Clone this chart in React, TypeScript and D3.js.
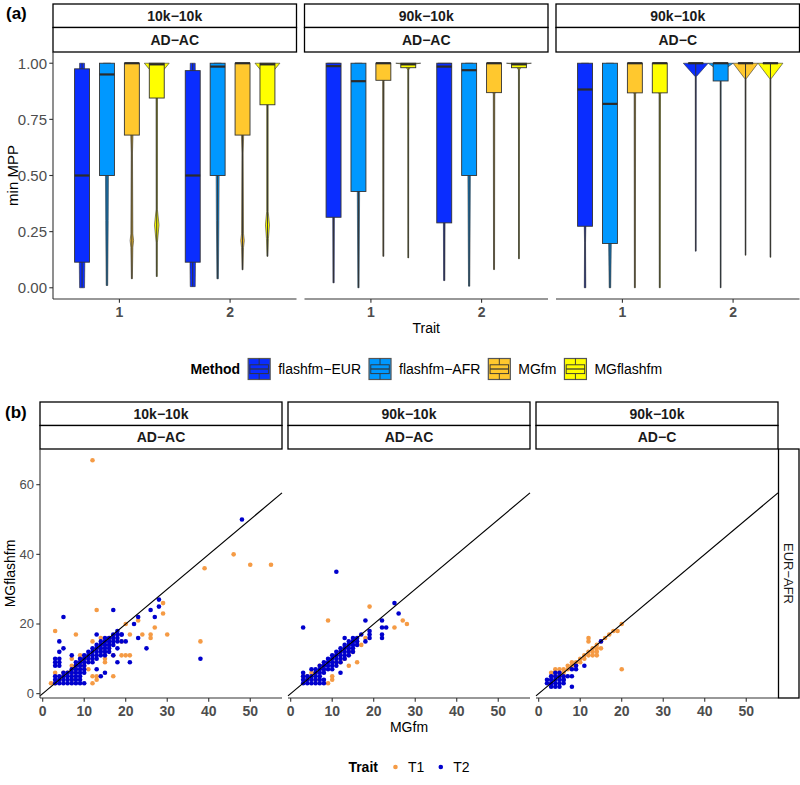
import React, { useEffect } from "react";
import * as d3 from "d3";

const FONT = "'Liberation Sans', Arial, Helvetica, sans-serif";

// ---------- (a) data ----------
const methods = ["flashfm−EUR", "flashfm−AFR", "MGfm", "MGflashfm"];
const methodColors = ["#0A2DFF", "#0098FF", "#FFC82E", "#FFFF00"];
const facetRow1 = ["10k−10k", "90k−10k", "90k−10k"];
const facetRow2 = ["AD−AC", "AD−AC", "AD−C"];
const traitsA = ["1", "2"];
const yTicksA = [0, 0.25, 0.5, 0.75, 1];
const yTickLabelsA = ["0.00", "0.25", "0.50", "0.75", "1.00"];

// [lower whisker, q1, median, q3, upper whisker] per panel / trait / method
const boxStats = [
  [
    [[0.0, 0.114, 0.5, 0.975, 1.0], [0.01, 0.5, 0.95, 1.0, 1.0], [0.04, 0.68, 1.0, 1.0, 1.0], [0.05, 0.845, 0.995, 1.0, 1.0]],
    [[0.005, 0.114, 0.5, 0.967, 1.0], [0.04, 0.5, 0.985, 1.0, 1.0], [0.08, 0.68, 1.0, 1.0, 1.0], [0.14, 0.815, 0.995, 1.0, 1.0]],
  ],
  [
    [[0.022, 0.314, 0.987, 1.0, 1.0], [0.0, 0.429, 0.92, 1.0, 1.0], [0.14, 0.924, 1.0, 1.0, 1.0], [0.133, 0.98, 0.995, 1.0, 1.0]],
    [[0.032, 0.289, 0.985, 1.0, 1.0], [0.007, 0.5, 0.969, 1.0, 1.0], [0.081, 0.869, 1.0, 1.0, 1.0], [0.129, 0.98, 0.995, 1.0, 1.0]],
  ],
  [
    [[0.0, 0.274, 0.883, 1.0, 1.0], [0.0, 0.197, 0.819, 1.0, 1.0], [0.0, 0.868, 1.0, 1.0, 1.0], [0.0, 0.868, 1.0, 1.0, 1.0]],
    [[0.163, 1.0, 1.0, 1.0, 1.0], [0.0, 0.921, 1.0, 1.0, 1.0], [0.145, 1.0, 1.0, 1.0, 1.0], [0.136, 1.0, 1.0, 1.0, 1.0]],
  ],
];

// violin outline knots: [value, relative half-width]
const violinKnots = [
  [
    [
      [[0.0, 0.2], [0.1, 0.22], [0.9, 0.22], [1.0, 0.2]],
      [[0.01, 0.06], [0.3, 0.1], [0.5, 0.12], [1.0, 0.3]],
      [[0.04, 0.04], [0.18, 0.08], [0.21, 0.14], [0.24, 0.08], [0.6, 0.05], [0.7, 0.1], [1.0, 0.5]],
      [[0.05, 0.04], [0.2, 0.05], [0.28, 0.18], [0.35, 0.05], [0.85, 0.06], [0.95, 0.4], [0.97, 0.55], [1.0, 1.0]],
    ],
    [
      [[0.005, 0.2], [0.1, 0.22], [0.9, 0.22], [1.0, 0.2]],
      [[0.04, 0.06], [0.3, 0.1], [0.5, 0.12], [1.0, 0.3]],
      [[0.08, 0.04], [0.18, 0.08], [0.21, 0.14], [0.24, 0.08], [0.6, 0.05], [0.7, 0.1], [1.0, 0.5]],
      [[0.14, 0.04], [0.22, 0.08], [0.28, 0.16], [0.34, 0.06], [0.82, 0.06], [0.95, 0.4], [0.97, 0.55], [1.0, 1.0]],
    ],
  ],
  [
    [
      [[0.022, 0.05], [0.5, 0.08], [0.95, 0.3], [1.0, 0.5]],
      [[0.0, 0.05], [0.5, 0.1], [1.0, 0.3]],
      [[0.14, 0.04], [0.92, 0.06], [1.0, 0.55]],
      [[0.133, 0.03], [0.97, 0.04], [0.995, 0.3], [1.0, 1.0]],
    ],
    [
      [[0.032, 0.05], [0.5, 0.08], [0.95, 0.3], [1.0, 0.5]],
      [[0.007, 0.05], [0.5, 0.1], [1.0, 0.3]],
      [[0.081, 0.04], [0.86, 0.06], [1.0, 0.55]],
      [[0.129, 0.03], [0.97, 0.04], [0.995, 0.3], [1.0, 1.0]],
    ],
  ],
  [
    [
      [[0.0, 0.06], [0.2, 0.04], [1.0, 0.3]],
      [[0.0, 0.06], [1.0, 0.3]],
      [[0.0, 0.04], [0.86, 0.06], [1.0, 0.55]],
      [[0.0, 0.04], [0.86, 0.06], [1.0, 0.55]],
    ],
    [
      [[0.163, 0.03], [0.94, 0.04], [1.0, 1.0]],
      [[0.0, 0.03], [0.92, 0.04], [0.98, 0.5], [1.0, 1.0]],
      [[0.145, 0.03], [0.93, 0.04], [1.0, 1.0]],
      [[0.136, 0.03], [0.93, 0.04], [1.0, 1.0]],
    ],
  ],
];

// ---------- (b) data ----------
const traitLabels = ["T1", "T2"];
const traitColors = ["#F59B45", "#0000CD"];
const xTicksB = [0, 10, 20, 30, 40, 50];
const yTicksB = [0, 20, 40, 60];
const rowStripB = "EUR−AFR";

const scatterT1 = [
  [[12, 67], [46, 40], [50, 37], [55, 37], [39, 36], [38, 15], [13, 24], [3, 18], [8, 17], [20, 20], [21, 17], [23, 21], [24, 17], [26, 17], [26, 16], [29, 26], [29, 23], [27, 19], [30, 17], [19, 15], [19, 11], [20, 11], [21, 11], [12, 15], [14, 16], [16, 15], [15, 9], [15, 10], [17, 11], [12, 5], [13, 5], [13, 4], [12, 3], [17, 5], [2, 3], [3, 6], [5, 6], [7, 6], [7, 10], [7, 8], [8, 7], [9, 11], [10, 8], [11, 7], [7, 4], [6, 6], [16, 14], [15, 12], [11, 10], [14, 13], [4, 4], [3, 3], [5, 5], [9, 9], [10, 10], [13, 13], [16, 16], [8, 8], [18, 17], [17, 16]],
  [[19, 25], [9, 21], [27, 21], [28, 20], [25, 19], [18, 16], [16, 15], [14, 12], [15, 12], [16, 9], [14, 8], [11, 9], [10, 5], [10, 4], [9, 3], [3, 5], [4, 5], [5, 6], [6, 4], [7, 8], [8, 7], [12, 12], [13, 13], [17, 14], [11, 11], [4, 4], [6, 6], [13, 10], [12, 9]],
  [[20, 20], [19, 18], [18, 18], [20, 7], [12, 16], [12, 15], [14, 14], [14, 13], [14, 12], [14, 11], [13, 13], [13, 12], [12, 11], [11, 11], [10, 10], [10, 9], [9, 9], [9, 8], [8, 8], [7, 8], [7, 7], [4, 7], [4, 6], [4, 5], [5, 6], [5, 5], [6, 5], [16, 16], [17, 17], [15, 13], [11, 10], [6, 7], [8, 9], [5, 7], [6, 6], [13, 11], [15, 15], [3, 6], [12, 12]],
];

// T2: scattered points plus rows [y, [x...]]
const scatterT2Loose = [
  [[5, 22], [17, 24], [4, 15], [4, 12], [5, 13], [13, 17], [22, 20], [23, 22], [23, 16], [25, 13], [26, 24], [27, 22], [28, 25], [28, 27], [48, 50], [38, 10], [21, 9], [18, 9], [15, 6], [14, 5], [13, 7], [18, 13], [17, 11], [19, 15], [20, 15], [19, 17], [16, 12], [10, 6]],
  [[11, 35], [3, 19], [25, 26], [26, 23], [18, 21], [22, 21], [23, 19], [22, 19], [22, 17], [22, 16], [19, 18], [19, 17], [19, 16], [18, 15], [17, 17], [13, 16], [12, 6]],
  [[15, 15], [11, 8], [9, 8], [9, 7], [8, 7], [8, 5], [7, 5], [8, 2], [6, 5], [6, 4]],
];
const scatterT2Rows = [
  [
    [3, [3, 4, 5, 6, 7, 8, 9, 10]], [4, [3, 4, 5, 6, 7, 8, 9]], [5, [3, 4, 5, 6, 7, 8, 9]], [6, [5, 6, 7, 8, 9]],
    [7, [7, 8, 9, 10]], [8, [3, 4, 8, 9, 10]], [9, [3, 4, 8, 9, 10, 11, 12]], [10, [3, 4, 9, 10, 11, 12, 13]],
    [11, [7, 10, 11, 12, 13, 14, 15]], [12, [11, 12, 13, 14, 15]], [13, [12, 13, 14, 15, 16]], [14, [13, 14, 15, 16, 17]],
    [15, [14, 15, 16, 17, 18]], [16, [15, 16, 17, 18]], [17, [17, 18, 19]], [18, [18]],
  ],
  [
    [3, [3, 4, 5, 6, 7, 8]], [4, [3, 4, 5, 6, 7, 8]], [5, [3, 4, 5, 6, 7]], [6, [3, 6, 7, 8]],
    [7, [5, 6, 7, 8, 9, 10]], [8, [7, 8, 9, 10, 11]], [9, [8, 9, 10, 11, 12]], [10, [9, 10, 11, 12, 13]],
    [11, [10, 11, 12, 13, 14]], [12, [11, 12, 13, 14, 15]], [13, [12, 13, 14, 15]], [14, [13, 14, 15, 16]],
    [15, [14, 15, 16]], [16, [15, 16]],
  ],
  [
    [2, [3, 4, 5]], [3, [2, 3, 4, 5, 6]], [4, [2, 3, 4, 5, 6]], [5, [3, 4, 5]], [6, [4, 5]],
  ],
];

// ---------- helpers ----------
let _ctx: any = null;
function measure(text: string, font: string) {
  if (!_ctx) _ctx = document.createElement("canvas").getContext("2d");
  _ctx.font = font;
  return _ctx.measureText(text).width;
}

function Strip({ x, y, w, h, label }: any) {
  return (
    <g>
      <rect x={x} y={y} width={w} height={h} fill="#fff" stroke="#000" strokeWidth={1.3} />
      <text x={x + w / 2} y={y + h / 2} textAnchor="middle" dominantBaseline="central" fontWeight="bold" fontSize={14} fill="#1A1A1A">
        {label}
      </text>
    </g>
  );
}

export default function App() {
  useEffect(() => {
    document.body.style.margin = "0";
  }, []);

  // ----- (a) layout -----
  const aLeft = [53, 304.5, 556];
  const aW = 243.5;
  const aTop = 52, aBottom = 299;
  const allA = boxStats.flat(3) as number[];
  const [aMin, aMax] = d3.extent(allA) as [number, number];
  const aPad = (aMax - aMin) * 0.05;
  const yA = d3.scaleLinear().domain([aMin - aPad, aMax + aPad]).range([aBottom, aTop]);

  const panelsA = aLeft.map((left, p) => {
    const xP = d3.scalePoint<string>().domain(traitsA).range([left, left + aW]).padding(0.6);
    const step = xP.step();
    const hw = (0.225 * step) / 2;
    const bw = 0.135 * step;
    const marks: any[] = [];
    traitsA.forEach((t, ti) => {
      methods.forEach((m, mi) => {
        const cx = (xP(t) as number) + (mi - 1.5) * 0.225 * step;
        const knots = violinKnots[p][ti][mi];
        const lft = knots.map(([v, w]) => [cx - w * hw, yA(v)] as [number, number]);
        const rgt = knots.map(([v, w]) => [cx + w * hw, yA(v)] as [number, number]).reverse();
        const path = d3.line()([...lft, ...rgt]) + "Z";
        const [lo, q1, med, q3, hi] = boxStats[p][ti][mi];
        marks.push(
          <g key={`${ti}-${mi}`}>
            <path d={path} fill={methodColors[mi]} stroke="#333" strokeWidth={0.6} />
            <line x1={cx} x2={cx} y1={yA(hi)} y2={yA(q3)} stroke="#333" strokeWidth={1} />
            <line x1={cx} x2={cx} y1={yA(q1)} y2={yA(lo)} stroke="#333" strokeWidth={1} />
            <rect x={cx - bw / 2} y={yA(q3)} width={bw} height={Math.max(0.01, yA(q1) - yA(q3))} fill={methodColors[mi]} stroke="#333" strokeWidth={0.9} />
            <line x1={cx - bw / 2} x2={cx + bw / 2} y1={yA(med)} y2={yA(med)} stroke="#2B2B2B" strokeWidth={2.2} />
          </g>
        );
      });
    });
    return (
      <g key={p}>
        <Strip x={left} y={4} w={aW} h={23.5} label={facetRow1[p]} />
        <Strip x={left} y={27.5} w={aW} h={24.5} label={facetRow2[p]} />
        {marks}
        <line x1={left} x2={left + aW} y1={aBottom} y2={aBottom} stroke="#333" strokeWidth={1.1} />
        {traitsA.map((t) => (
          <g key={t}>
            <line x1={xP(t)} x2={xP(t)} y1={aBottom} y2={aBottom + 3.7} stroke="#333" strokeWidth={1.1} />
            <text x={xP(t)} y={aBottom + 13} textAnchor="middle" dominantBaseline="central" fontSize={14} fontWeight="bold" fill="#4D4D4D">
              {t}
            </text>
          </g>
        ))}
        {p === 0 && (
          <g>
            <line x1={left} x2={left} y1={aTop} y2={aBottom} stroke="#333" strokeWidth={1.1} />
            {yTicksA.map((v, i) => (
              <g key={v}>
                <line x1={left - 3.7} x2={left} y1={yA(v)} y2={yA(v)} stroke="#333" strokeWidth={1.1} />
                <text x={left - 6} y={yA(v)} textAnchor="end" dominantBaseline="central" fontSize={15} fill="#4D4D4D">
                  {yTickLabelsA[i]}
                </text>
              </g>
            ))}
          </g>
        )}
      </g>
    );
  });

  // legend (a)
  const legAy = 369;
  const legTitleFont = `bold 14px ${FONT}`;
  const legLabFont = `14px ${FONT}`;
  const keyW = 22, keyH = 21;
  const tTitle = measure("Method", legTitleFont);
  const labW = methods.map((m) => measure(m, legLabFont));
  const legTotal = tTitle + labW.reduce((s, w) => s + 8 + keyW + 8 + w, 0);
  let lx = (aLeft[0] + aLeft[2] + aW) / 2 - legTotal / 2;
  const legendA: any[] = [
    <text key="t" x={lx} y={legAy} dominantBaseline="central" fontWeight="bold" fontSize={14} fill="#000">
      Method
    </text>,
  ];
  lx += tTitle;
  methods.forEach((m, i) => {
    lx += 8;
    const kx = lx, ky = legAy - keyH / 2;
    legendA.push(
      <g key={m}>
        <rect x={kx} y={ky} width={keyW} height={keyH} fill={methodColors[i]} stroke="#555" strokeWidth={1.2} />
        <line x1={kx + keyW / 2} x2={kx + keyW / 2} y1={ky} y2={ky + keyH * 0.3} stroke="#333" strokeWidth={0.9} />
        <line x1={kx + keyW / 2} x2={kx + keyW / 2} y1={ky + keyH * 0.72} y2={ky + keyH} stroke="#333" strokeWidth={0.9} />
        <rect x={kx + keyW * 0.08} y={ky + keyH * 0.3} width={keyW * 0.84} height={keyH * 0.42} fill={methodColors[i]} stroke="#333" strokeWidth={0.9} />
        <line x1={kx + keyW * 0.08} x2={kx + keyW * 0.92} y1={ky + keyH / 2} y2={ky + keyH / 2} stroke="#333" strokeWidth={1.2} />
        <text x={kx + keyW + 8} y={legAy} dominantBaseline="central" fontSize={14} fill="#000">
          {m}
        </text>
      </g>
    );
    lx += keyW + 8 + labW[i];
  });

  // ----- (b) layout -----
  const bLeft = [40, 288, 536];
  const bW = 242;
  const bTop = 449, bBottom = 698;
  const ptsT2 = scatterT2Loose.map((loose, p) => [
    ...loose,
    ...scatterT2Rows[p].flatMap(([y, xs]: any) => (xs as number[]).map((x) => [x, y])),
  ]);
  const allPts = [...scatterT1.flat(), ...ptsT2.flat()] as number[][];
  const [xMin, xMax] = d3.extent(allPts, (d) => d[0]) as [number, number];
  const [yMin, yMax] = d3.extent(allPts, (d) => d[1]) as [number, number];
  const xPad = (xMax - xMin) * 0.05, yPad = (yMax - yMin) * 0.05;
  const xDom = [xMin - xPad, xMax + xPad];
  const yB = d3.scaleLinear().domain([yMin - yPad, yMax + yPad]).range([bBottom, bTop]);

  const panelsB = bLeft.map((left, p) => {
    const xB = d3.scaleLinear().domain(xDom).range([left, left + bW]);
    const lo = Math.max(xDom[0], yB.domain()[0]);
    const hi = Math.min(xDom[1], yB.domain()[1]);
    return (
      <g key={p}>
        <Strip x={left} y={402} w={bW} h={23.5} label={facetRow1[p]} />
        <Strip x={left} y={425.5} w={bW} h={23.5} label={facetRow2[p]} />
        {scatterT1[p].map(([x, y], i) => (
          <circle key={"a" + i} cx={xB(x)} cy={yB(y)} r={2.3} fill={traitColors[0]} />
        ))}
        {ptsT2[p].map(([x, y]: any, i: number) => (
          <circle key={"b" + i} cx={xB(x)} cy={yB(y)} r={2.3} fill={traitColors[1]} />
        ))}
        <line x1={xB(lo)} y1={yB(lo)} x2={xB(hi)} y2={yB(hi)} stroke="#000" strokeWidth={1.2} />
        <line x1={left} x2={left + bW} y1={bBottom} y2={bBottom} stroke="#333" strokeWidth={1.1} />
        {xTicksB.map((t) => (
          <g key={t}>
            <line x1={xB(t)} x2={xB(t)} y1={bBottom} y2={bBottom + 3.7} stroke="#333" strokeWidth={1.1} />
            <text x={xB(t)} y={bBottom + 13} textAnchor="middle" dominantBaseline="central" fontSize={14} fontWeight="bold" fill="#4D4D4D">
              {t}
            </text>
          </g>
        ))}
        {p === 0 && (
          <g>
            <line x1={left} x2={left} y1={bTop} y2={bBottom} stroke="#333" strokeWidth={1.1} />
            {yTicksB.map((v) => (
              <g key={v}>
                <line x1={left - 3.7} x2={left} y1={yB(v)} y2={yB(v)} stroke="#333" strokeWidth={1.1} />
                <text x={left - 6} y={yB(v)} textAnchor="end" dominantBaseline="central" fontSize={13} fill="#4D4D4D">
                  {v}
                </text>
              </g>
            ))}
          </g>
        )}
      </g>
    );
  });

  // legend (b)
  const legBy = 767;
  const tTitleB = measure("Trait", `bold 14px ${FONT}`);
  const labWB = traitLabels.map((t) => measure(t, `14px ${FONT}`));
  const keyWB = 17;
  const legTotalB = tTitleB + labWB.reduce((s, w, i) => s + (i === 0 ? 9 : 8) + keyWB + 4 + w, 0);
  let bx = (bLeft[0] + bLeft[2] + bW) / 2 - legTotalB / 2;
  const legendB: any[] = [
    <text key="t" x={bx} y={legBy} dominantBaseline="central" fontWeight="bold" fontSize={14} fill="#000">
      Trait
    </text>,
  ];
  bx += tTitleB;
  traitLabels.forEach((t, i) => {
    bx += i === 0 ? 9 : 8;
    legendB.push(
      <g key={t}>
        <circle cx={bx + keyWB / 2} cy={legBy} r={2.3} fill={traitColors[i]} />
        <text x={bx + keyWB + 4} y={legBy} dominantBaseline="central" fontSize={14} fill="#000">
          {t}
        </text>
      </g>
    );
    bx += keyWB + 4 + labWB[i];
  });

  const bRight = bLeft[2] + bW;

  return (
    <svg width={800} height={785} style={{ position: "absolute", left: 0, top: 0, background: "#fff" }} fontFamily={FONT}>
      <rect x={0} y={0} width={800} height={785} fill="#fff" />
      <text x={6} y={13} dominantBaseline="central" fontWeight="bold" fontSize={17} fill="#000">(a)</text>
      {panelsA}
      <text x={12} y={(aTop + aBottom) / 2} transform={`rotate(-90, 12, ${(aTop + aBottom) / 2})`} textAnchor="middle" dominantBaseline="central" fontSize={15} fill="#000">
        min MPP
      </text>
      <text x={(aLeft[0] + aLeft[2] + aW) / 2} y={328} textAnchor="middle" dominantBaseline="central" fontSize={14} fill="#000">
        Trait
      </text>
      {legendA}

      <text x={5} y={412} dominantBaseline="central" fontWeight="bold" fontSize={17} fill="#000">(b)</text>
      {panelsB}
      <rect x={bRight + 0.5} y={bTop} width={20.5} height={bBottom - bTop} fill="#fff" stroke="#000" strokeWidth={1.3} />
      <text x={bRight + 10.75} y={(bTop + bBottom) / 2} transform={`rotate(90, ${bRight + 10.75}, ${(bTop + bBottom) / 2})`} textAnchor="middle" dominantBaseline="central" fontSize={13} fill="#1A1A1A">
        {rowStripB}
      </text>
      <text x={10} y={(bTop + bBottom) / 2} transform={`rotate(-90, 10, ${(bTop + bBottom) / 2})`} textAnchor="middle" dominantBaseline="central" fontSize={14} fill="#000">
        MGflashfm
      </text>
      <text x={(bLeft[0] + bRight) / 2} y={727} textAnchor="middle" dominantBaseline="central" fontSize={14} fill="#000">
        MGfm
      </text>
      {legendB}
    </svg>
  );
}
